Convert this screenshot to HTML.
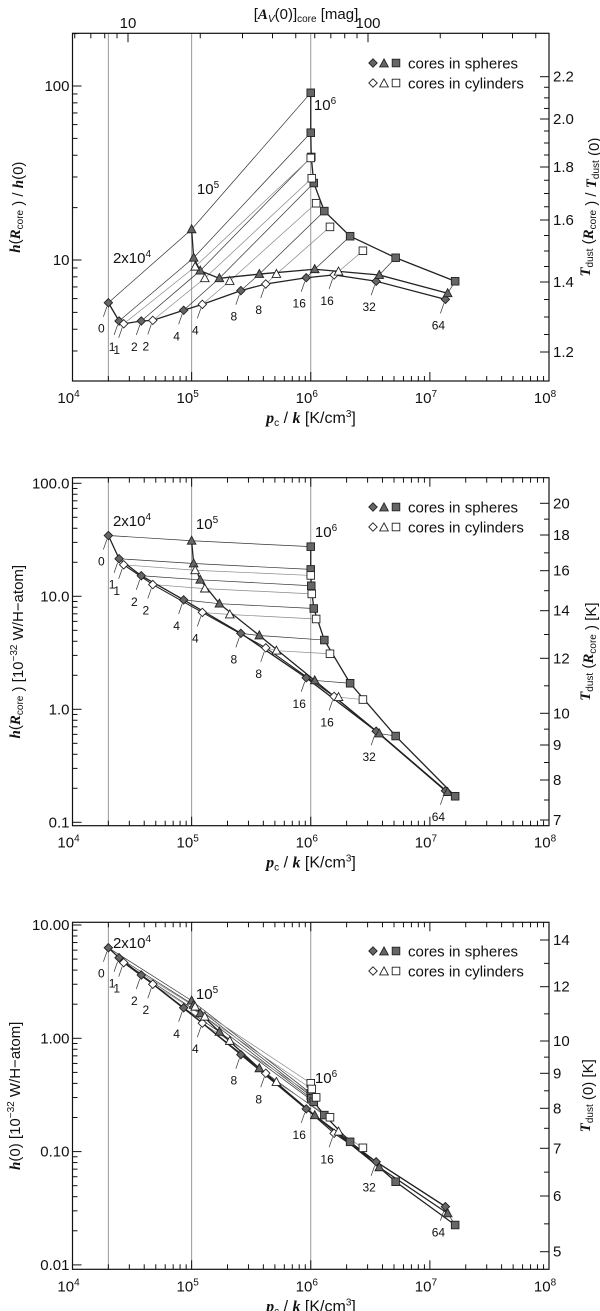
<!DOCTYPE html>
<html><head><meta charset="utf-8">
<style>
body{margin:0;background:#fff;}
svg{display:block;font-family:"Liberation Sans",sans-serif;}
</style></head>
<body>
<svg id="fig" width="600" height="1311" viewBox="0 0 600 1311" xmlns="http://www.w3.org/2000/svg"></svg>
<script>
// ---- data (pressure p_c/k) ----
const pDiaSph=[2.0e4,2.46e4,3.78e4,8.57e4,2.59e5,9.16e5,3.54e6,1.35e7];
const pDiaCyl=[2.69e4,4.72e4,1.23e5,4.19e5,1.57e6];
const pTriSph=[1.0e5,1.04e5,1.18e5,1.71e5,3.70e5,1.08e6,3.76e6,1.41e7];
const pTriCyl=[1.07e5,1.29e5,2.09e5,5.15e5,1.71e6];
const pSqSph=[1.0e6,1.0e6,1.01e6,1.06e6,1.30e6,2.14e6,5.16e6,1.63e7];
const pSqCyl=[1.0e6,1.02e6,1.11e6,1.45e6,2.74e6];
const sphLabels=['0','1','2','4','8','16','32','64'];
const cylLabels=['1','2','4','8','16'];
// panel 1: h(Rcore)/h(0)
const p1DiaSph=[5.68,4.46,4.46,5.14,6.67,7.91,7.55,5.94];
const p1DiaCyl=[4.30,4.50,5.56,7.28,8.21];
const p1TriSph=[15.0,10.3,8.68,7.85,8.3,8.85,8.2,6.44];
const p1TriCyl=[9.15,7.85,7.57,8.3,8.57];
const p1SqSph=[91.4,53.9,39.1,27.7,19.1,13.7,10.3,7.55];
const p1SqCyl=[38.6,29.5,21.2,15.5,11.3];
// panel 2: h(Rcore)
const p2DiaSph=[34.5,21.5,15.2,9.3,4.7,1.9,0.64,0.19];
const p2DiaCyl=[19.0,12.7,7.2,3.5,1.3];
const p2TriSph=[31.0,19.5,14.0,8.6,4.5,1.8,0.61,0.185];
const p2TriCyl=[17.0,11.7,6.9,3.3,1.28];
const p2SqSph=[27.5,17.3,12.4,7.8,4.1,1.7,0.58,0.17];
const p2SqCyl=[15.3,10.5,6.3,3.1,1.22];
// panel 3: h(0)
const p3DiaSph=[6.30,5.14,3.62,1.86,0.717,0.238,0.0814,0.0327];
const p3DiaCyl=[4.65,3.0,1.36,0.491,0.145];
const p3TriSph=[2.15,1.97,1.66,1.14,0.543,0.209,0.0726,0.0285];
const p3TriCyl=[1.90,1.55,0.947,0.411,0.150];
const p3SqSph=[0.327,0.31,0.295,0.275,0.21,0.122,0.0542,0.0225];
const p3SqCyl=[0.401,0.357,0.301,0.201,0.108];
const xTickLabels=['4','5','6','7','8'];
const isoP=[2e4,1e5,1e6];
const isoLabels=['2x10','10','10'];
const isoSup=['4','5','6'];

const NS='http://www.w3.org/2000/svg';
const svg=document.getElementById('fig');
const L=72.5,R=549;
function X(p){return L+(Math.log10(p)-4)*(R-L)/4;}
function mk(tag,attrs,parent){const e=document.createElementNS(NS,tag);for(const k in attrs)e.setAttribute(k,attrs[k]);(parent||svg).appendChild(e);return e;}

const panels=[
 {id:'top',top:33.3,bot:381,y0:260,v0:10,dec:174,
  yt:[{v:10,t:'10'},{v:100,t:'100'}],minorFrom:2,minorTo:200,
  right:[[2.2,76.7],[2.0,119],[1.8,167],[1.6,220],[1.4,282],[1.2,352]],
  data:[p1DiaSph,p1DiaCyl,p1TriSph,p1TriCyl,p1SqSph,p1SqCyl],
  iso:[[132,257],[208,188],[325,104]],leg:63},
 {id:'mid',top:477.7,bot:825.7,y0:709.3,v0:1,dec:113,
  yt:[{v:0.1,t:'0.1'},{v:1,t:'1.0'},{v:10,t:'10.0'},{v:100,t:'100.0'}],minorFrom:0.1,minorTo:100,
  right:[[20,503.3],[18,535],[16,570.7],[14,610.7],[12,658.3],[10,713.3],[9,745],[8,780],[7,820]],
  data:[p2DiaSph,p2DiaCyl,p2TriSph,p2TriCyl,p2SqSph,p2SqCyl],
  iso:[[132,520],[207,523],[326,531]],leg:507},
 {id:'bot',top:922.3,bot:1269.3,y0:1038.3,v0:1,dec:113.3,
  yt:[{v:0.01,t:'0.01'},{v:0.1,t:'0.10'},{v:1,t:'1.00'},{v:10,t:'10.00'}],minorFrom:0.01,minorTo:10,
  right:[[14,940],[12,986.7],[10,1041],[9,1073.3],[8,1108.3],[7,1148.3],[6,1196],[5,1251.7]],
  data:[p3DiaSph,p3DiaCyl,p3TriSph,p3TriCyl,p3SqSph,p3SqCyl],
  iso:[[132,942],[207,993],[326,1077]],leg:951}
];

function marker(g,shape,x,y,filled,name){
 const f=filled?'#666':'#fff';let e;
 if(shape==='D')e=mk('polygon',{points:`${x},${y-4.2} ${x+4.2},${y} ${x},${y+4.2} ${x-4.2},${y}`,fill:f,stroke:'#222','stroke-width':0.9},g);
 else if(shape==='T')e=mk('polygon',{points:`${x},${y-4.6} ${x+4.3},${y+3.4} ${x-4.3},${y+3.4}`,fill:f,stroke:'#222','stroke-width':0.9},g);
 else e=mk('rect',{x:x-3.8,y:y-3.8,width:7.6,height:7.6,fill:f,stroke:'#222','stroke-width':0.9},g);
 
 
}
function poly(g,pts,stroke,w,name){
 const e=mk('polyline',{points:pts.map(p=>p.join(',')).join(' '),fill:'none',stroke:stroke,'stroke-width':w},g);
 
 
}

panels.forEach((P,pi)=>{
 const Y=v=>P.y0-P.dec*(Math.log10(v)-Math.log10(P.v0));
 const g=mk('g',{});
 
 
 isoP.forEach((p,i)=>{const e=mk('line',{x1:X(p),x2:X(p),y1:P.top,y2:P.bot,stroke:'#999','stroke-width':1},g);
  
  });
 const [dS,dC,tS,tC,sS,sC]=P.data;
 for(let i=0;i<8;i++)poly(g,[[X(pDiaSph[i]),Y(dS[i])],[X(pTriSph[i]),Y(tS[i])],[X(pSqSph[i]),Y(sS[i])]],'#333',0.7,'sphere-connector');
 for(let i=0;i<5;i++)poly(g,[[X(pDiaCyl[i]),Y(dC[i])],[X(pTriCyl[i]),Y(tC[i])],[X(pSqCyl[i]),Y(sC[i])]],'#888',0.7,'cylinder-connector');
 const merged=pDiaSph.map((p,i)=>[X(p),Y(dS[i])]);
 if(pi===0){pDiaCyl.forEach((p,i)=>merged.push([X(p),Y(dC[i])]));merged.sort((a,b)=>a[0]-b[0]);}
 poly(g,merged,'#222',1.3,'diamond-series-line');
 if(pi>0)poly(g,pDiaCyl.map((p,i)=>[X(p),Y(dC[i])]).concat([[X(pDiaSph[6]),Y(dS[6])],[X(pDiaSph[7]),Y(dS[7])]]),'#222',1.1,'diamond-cyl-line');
 poly(g,pTriSph.map((p,i)=>[X(p),Y(tS[i])]),'#222',1.3,'triangle-series-line');
 poly(g,pSqSph.map((p,i)=>[X(p),Y(sS[i])]),'#222',1.3,'square-series-line');
 pDiaSph.forEach((p,i)=>marker(g,'D',X(p),Y(dS[i]),true,'diamond-sphere'));
 pDiaCyl.forEach((p,i)=>marker(g,'D',X(p),Y(dC[i]),false,'diamond-cylinder'));
 pTriSph.forEach((p,i)=>marker(g,'T',X(p),Y(tS[i]),true,'triangle-sphere'));
 pTriCyl.forEach((p,i)=>marker(g,'T',X(p),Y(tC[i]),false,'triangle-cylinder'));
 pSqSph.forEach((p,i)=>marker(g,'S',X(p),Y(sS[i]),true,'square-sphere'));
 pSqCyl.forEach((p,i)=>marker(g,'S',X(p),Y(sC[i]),false,'square-cylinder'));
 function lab(x,y,t){
  const l=mk('line',{x1:x-1.5,y1:y+4,x2:x-5,y2:y+14,stroke:'#333','stroke-width':0.7},g);
  
  
  const e=mk('text',{x:x-7,y:y+30,'font-size':12,'text-anchor':'middle',fill:'#111'},g);e.textContent=t;
  
  
 }
 pDiaSph.forEach((p,i)=>lab(X(p),Y(dS[i]),sphLabels[i]));
 pDiaCyl.forEach((p,i)=>lab(X(p),Y(dC[i]),cylLabels[i]));
 P.iso.forEach((q,i)=>{const e=mk('text',{x:q[0],y:q[1]+6,'font-size':15,'text-anchor':'middle',fill:'#111'},g);
  e.innerHTML=isoLabels[i]+'<tspan dy="-6" font-size="10">'+isoSup[i]+'</tspan>';
  
  });
 const fr=mk('rect',{x:L,y:P.top,width:R-L,height:P.bot-P.top,fill:'none',stroke:'#111','stroke-width':1.2},g);
 
 
 for(let d=4;d<=8;d++){
  const x=X(Math.pow(10,d));
  mk('line',{x1:x,x2:x,y1:P.bot,y2:P.bot-9,stroke:'#111'},g);
  if(pi>0)mk('line',{x1:x,x2:x,y1:P.top,y2:P.top+9,stroke:'#111'},g);
  const t=mk('text',{x:x-4,y:P.bot+22,'font-size':15,'text-anchor':'middle',fill:'#111'},g);
  t.innerHTML='10<tspan dy="-6" font-size="10">'+xTickLabels[d-4]+'</tspan>';
  
  
  if(d<8)for(let m=2;m<10;m++){const xm=X(m*Math.pow(10,d));
   mk('line',{x1:xm,x2:xm,y1:P.bot,y2:P.bot-5,stroke:'#111'},g);
   if(pi>0)mk('line',{x1:xm,x2:xm,y1:P.top,y2:P.top+5,stroke:'#111'},g);}
 }
 const xt=mk('text',{x:311,y:P.bot+42,'font-size':16,'text-anchor':'middle',fill:'#111'},g);
 xt.innerHTML='<tspan font-family="Liberation Serif" font-style="italic" font-weight="bold">p</tspan><tspan font-size="10" dy="3">c</tspan><tspan dy="-3"> / </tspan><tspan font-family="Liberation Serif" font-style="italic" font-weight="bold">k</tspan> [K/cm<tspan dy="-6" font-size="10">3</tspan><tspan dy="6">]</tspan>';
 
 
 P.yt.forEach(o=>{const y=Y(o.v);mk('line',{x1:L,x2:L+9,y1:y,y2:y,stroke:'#111'},g);
  const t=mk('text',{x:L-3,y:y+5,'font-size':15,'text-anchor':'end',fill:'#111'},g);t.textContent=o.t;
  
  });
 for(let d=Math.floor(Math.log10(P.minorFrom));d<Math.ceil(Math.log10(P.minorTo))+1;d++)for(let m=2;m<10;m++){
  const v=m*Math.pow(10,d);const y=Y(v);if(y<P.top||y>P.bot)continue;
  mk('line',{x1:L,x2:L+5,y1:y,y2:y,stroke:'#111'},g);}
 P.right.forEach((r,i)=>{mk('line',{x1:R,x2:R-9,y1:r[1],y2:r[1],stroke:'#111'},g);
  const t=mk('text',{x:R+4,y:r[1]+5,'font-size':15,fill:'#111'},g);t.textContent=(pi===0?r[0].toFixed(1):String(r[0]));
  
  
  if(i<P.right.length-1){const n=(pi===0?4:2);for(let k=1;k<n;k++){const yy=r[1]+(P.right[i+1][1]-r[1])*k/n;mk('line',{x1:R,x2:R-5,y1:yy,y2:yy,stroke:'#111'},g);}}});
 const lg=mk('g',{},g);
 
 
 [[true,'cores in spheres',P.leg],[false,'cores in cylinders',P.leg+20]].forEach(r=>{
  marker(lg,'D',373,r[2],r[0],'legend-diamond');marker(lg,'T',384,r[2]+0.5,r[0],'legend-triangle');marker(lg,'S',396,r[2],r[0],'legend-square');
  const t=mk('text',{x:408,y:r[2]+5.5,'font-size':15,fill:'#111'},lg);t.textContent=r[1];
  
  });
 const cy=(P.top+P.bot)/2;
 const yt=mk('text',{x:0,y:0,'font-size':15,'text-anchor':'middle',fill:'#111',transform:`translate(20,${cy}) rotate(-90)`},g);
 const B=s=>'<tspan font-family="Liberation Serif" font-style="italic" font-weight="bold">'+s+'</tspan>';
 const sub=s=>'<tspan font-size="10" dy="3">'+s+'</tspan><tspan dy="-3"></tspan>';
 if(pi===0)yt.innerHTML=B('h')+'('+B('R')+sub('core')+' ) / '+B('h')+'(0)';
 else if(pi===1)yt.innerHTML=B('h')+'('+B('R')+sub('core')+' ) [10<tspan dy="-6" font-size="10">−32</tspan><tspan dy="6"> W/H−atom]</tspan>';
 else yt.innerHTML=B('h')+'(0) [10<tspan dy="-6" font-size="10">−32</tspan><tspan dy="6"> W/H−atom]</tspan>';
 
 
 const rt=mk('text',{x:0,y:0,'font-size':15,'text-anchor':'middle',fill:'#111',transform:`translate(590,${cy}) rotate(-90)`},g);
 if(pi===0)rt.innerHTML=B('T')+sub('dust')+' ('+B('R')+sub('core')+' ) / '+B('T')+sub('dust')+' (0)';
 else if(pi===1)rt.innerHTML=B('T')+sub('dust')+' ('+B('R')+sub('core')+' ) [K]';
 else rt.innerHTML=B('T')+sub('dust')+' (0) [K]';
 
 
});
const avTicks=['10','100'];
const avX=v=>128+(Math.log10(v)-1)*240;
for(let d=0;d<3;d++)for(let m=1;m<10;m++){const x=avX(m*Math.pow(10,d));if(x<L||x>R)continue;
 mk('line',{x1:x,x2:x,y1:33.3,y2:33.3+(m===1?9:5),stroke:'#111'});}
avTicks.forEach((t,i)=>{const e=mk('text',{x:avX(+t),y:28,'font-size':15,'text-anchor':'middle',fill:'#111'});e.textContent=t;
 
 });
const at=mk('text',{x:306,y:19,'font-size':15,'text-anchor':'middle',fill:'#111'});
at.innerHTML='[<tspan font-family="Liberation Serif" font-style="italic" font-weight="bold">A</tspan><tspan font-size="10" dy="3" font-style="italic">V</tspan><tspan dy="-3">(0)]</tspan><tspan font-size="10" dy="3">core</tspan><tspan dy="-3"> [mag]</tspan>';


</script>
</body></html>
